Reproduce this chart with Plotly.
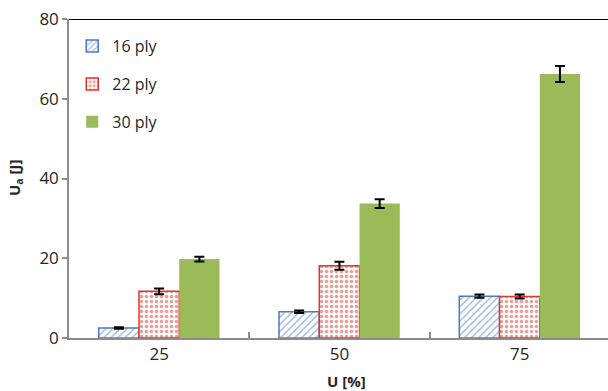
import plotly.graph_objects as go

categories = ["25", "50", "75"]
series_names = ["16 ply", "22 ply", "30 ply"]
vals_16 = [2.5, 6.6, 10.5]
err_16 = [0.2, 0.3, 0.4]
vals_22 = [11.7, 18.1, 10.4]
err_22 = [0.7, 1.0, 0.5]
vals_30 = [19.8, 33.7, 66.2]
err_30 = [0.6, 1.1, 2.0]
y_ticks = [0, 20, 40, 60, 80]

blue = "#4a7ac8"
red = "#e0362c"
green = "#9bbb59"
font = "Open Sans"

x = list(range(len(categories)))
fig = go.Figure()
err_style = dict(type="data", thickness=2, width=5, color="black")

fig.add_trace(go.Bar(
    x=x, y=vals_16, name=series_names[0], legendgroup="a",
    marker=dict(color="white", line=dict(color=blue, width=1.5),
                pattern=dict(shape="/", fgcolor=blue, bgcolor="white", size=5, solidity=0.3)),
    error_y=dict(array=err_16, **err_style)))
fig.add_trace(go.Bar(
    x=x, y=vals_22, name=series_names[1], legendgroup="b",
    marker=dict(color="white", line=dict(color=red, width=1.5),
                pattern=dict(shape=".", fgcolor=red, bgcolor="white", size=5, solidity=0.4)),
    error_y=dict(array=err_22, **err_style)))
fig.add_trace(go.Bar(
    x=x, y=vals_30, name=series_names[2], legendgroup="c",
    marker=dict(color=green, line=dict(width=0)),
    error_y=dict(array=err_30, **err_style)))

fig.add_trace(go.Scatter(x=[0.5, 1.5], y=[0, 0], xaxis="x2", mode="markers",
                         marker=dict(opacity=0), showlegend=False, hoverinfo="skip"))

xr = [-0.5, 2.49]
fig.update_layout(
    width=608, height=391,
    margin=dict(l=69, r=0, t=19, b=53, autoexpand=False),
    paper_bgcolor="white", plot_bgcolor="white",
    barmode="group", bargap=0.33, bargroupgap=0,
    font=dict(family=font, size=17, color="#262626"),
    xaxis=dict(range=xr, tickmode="array", tickvals=x, ticktext=categories, automargin=False,
               ticks="", showline=True, linecolor="#8c8c8c", linewidth=1.5,
               showgrid=False, zeroline=False),
    xaxis2=dict(range=xr, overlaying="x", anchor="y", tickmode="array", tickvals=[0.5, 1.5],
                ticks="inside", ticklen=6, tickcolor="#8c8c8c", tickwidth=1.5, automargin=False,
                showticklabels=False, showgrid=False, zeroline=False, showline=False),
    yaxis=dict(range=[0, 80], tickmode="array", tickvals=y_ticks, automargin=False,
               ticks="outside", ticklen=5, tickcolor="#8c8c8c", tickwidth=1.5,
               showline=True, linecolor="#8c8c8c", linewidth=1.5,
               showgrid=False, zeroline=False),
    legend=dict(x=0.006, y=0.968, xanchor="left", yanchor="top", bgcolor="rgba(0,0,0,0)",
                font=dict(size=16, color="#262626"), tracegroupgap=14),
    shapes=[dict(type="line", xref="paper", yref="y", x0=0, x1=1, y0=80, y1=80,
                 line=dict(color="black", width=2))],
    annotations=[
        dict(text="<b>U [%]</b>", xref="paper", yref="paper", x=(346-69)/539, y=-(381-338)/319,
             xanchor="center", yanchor="middle", showarrow=False, font=dict(size=15, color="#262626")),
        dict(text="<b>U<sub>a</sub> [J]</b>", xref="paper", yref="paper", x=-(69-15)/539, y=(338-178)/319,
             xanchor="center", yanchor="middle", textangle=-90, showarrow=False,
             font=dict(size=15, color="#262626")),
    ],
)

fig.write_html("out.html", config={"displayModeBar": False},
               post_script="document.body.style.margin='0';")
